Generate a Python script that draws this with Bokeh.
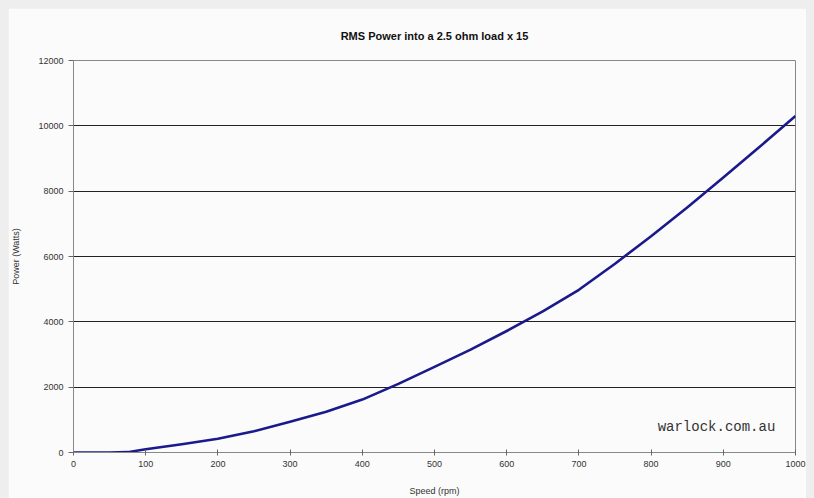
from bokeh.plotting import figure
from bokeh.models import Label, SingleIntervalTicker, Range1d
from bokeh.embed import file_html
from bokeh.resources import INLINE

speed = [0, 50, 75, 100, 150, 200, 250, 300, 350, 400, 450, 500, 550, 600,
         650, 700, 750, 800, 850, 900, 950, 1000]
power = [0, 0, 10, 100, 250, 420, 650, 940, 1250, 1620, 2100, 2620, 3150, 3720,
         4320, 4980, 5780, 6620, 7500, 8420, 9350, 10300]

title_text = "RMS Power into a 2.5 ohm load x 15"
x_label = "Speed (rpm)"
y_label = "Power (Watts)"
watermark = "warlock.com.au"

p = figure(width=798, height=490, output_backend="svg", toolbar_location=None,
           x_range=Range1d(0, 1000), y_range=Range1d(0, 12000),
           min_border_left=64, min_border_right=11, min_border_top=51,
           min_border_bottom=36)
p.title.text = title_text
p.title.align = "center"
p.title.text_font = "Liberation Sans"
p.title.text_font_size = "11px"
p.title.text_font_style = "bold"
p.title.text_color = "#111111"
p.title.standoff = 38

p.background_fill_color = "#fbfbfb"
p.border_fill_color = "#fbfbfb"
p.outline_line_color = "#888888"
p.outline_line_width = 1

p.line(speed, power, line_color="#1a1a8c", line_width=2.6, line_join="round")

p.xaxis.ticker = SingleIntervalTicker(interval=100)
p.yaxis.ticker = SingleIntervalTicker(interval=2000)
p.xgrid.grid_line_color = None
p.ygrid.grid_line_color = "#222222"
p.ygrid.grid_line_width = 1

for ax in (p.xaxis[0], p.yaxis[0]):
    ax.axis_line_color = "#888888"
    ax.major_tick_line_color = "#666666"
    ax.minor_tick_line_color = None
    ax.major_label_text_font = "Liberation Sans"
    ax.major_label_text_font_size = "9px"
    ax.major_label_text_color = "#333333"
    ax.axis_label_text_font = "Liberation Sans"
    ax.axis_label_text_font_size = "9px"
    ax.axis_label_text_font_style = "normal"
    ax.axis_label_text_color = "#333333"

p.xaxis.major_tick_in = 3
p.xaxis.major_tick_out = 3
p.yaxis.major_tick_in = 0
p.yaxis.major_tick_out = 5
p.xaxis.axis_label = x_label
p.yaxis.axis_label = y_label
p.xaxis.axis_label_standoff = 16
p.yaxis.axis_label_standoff = 14
p.xaxis.major_label_standoff = 4

p.add_layout(Label(x=972, y=790, text=watermark, text_align="right",
                   text_baseline="middle", text_font="Liberation Mono",
                   text_font_size="14px", text_color="#333333"))

html = file_html(p, INLINE)
html = html.replace("</head>",
                    "<style>html{background:#eeeeee}body{margin:8px !important;background:#eeeeee}</style></head>", 1)
open("out.html", "w").write(html)
